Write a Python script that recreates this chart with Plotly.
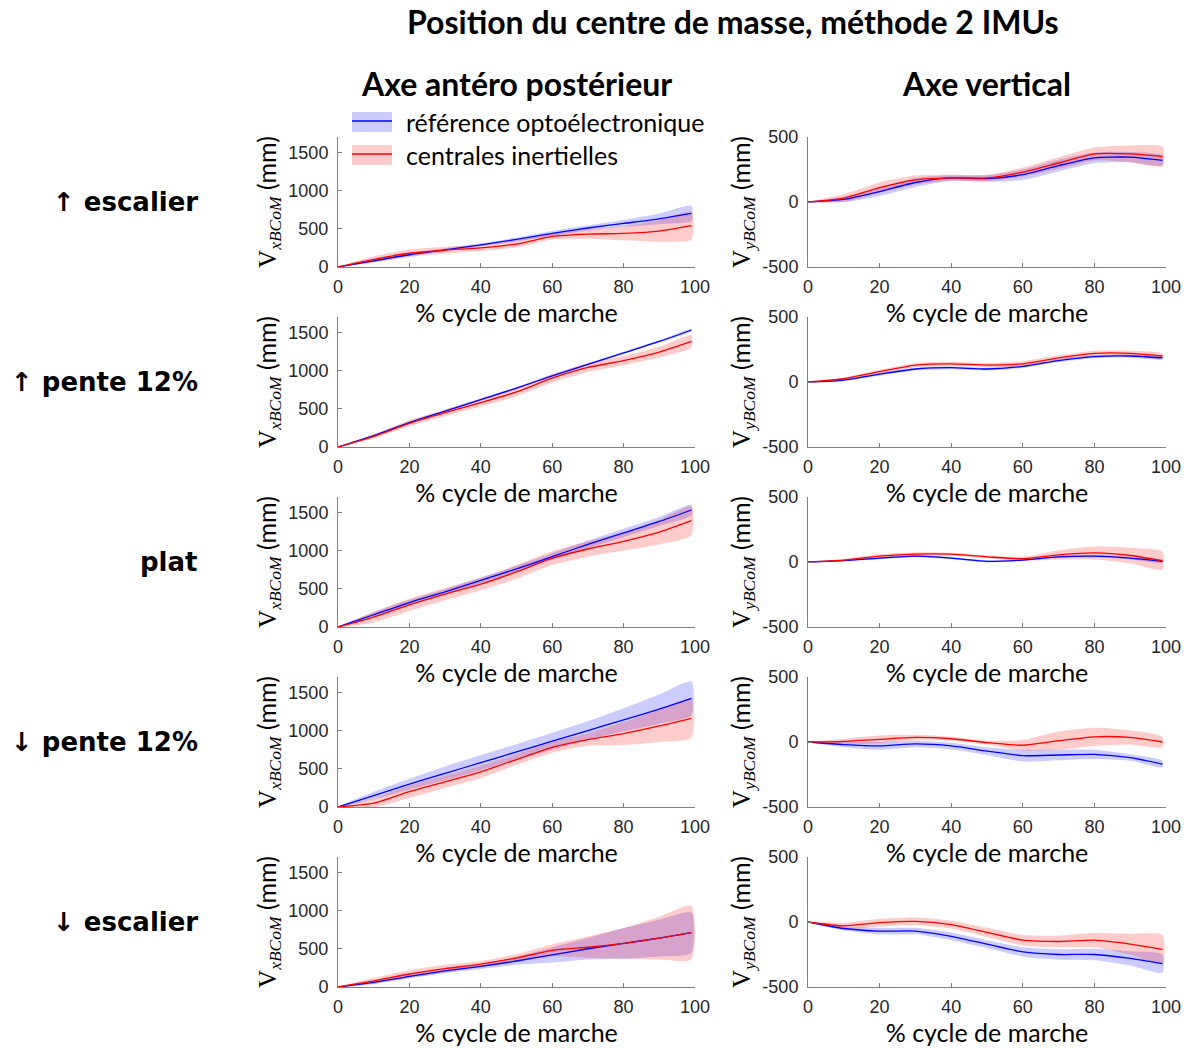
import plotly.graph_objects as go

W, H = 1189, 1048

x_pct = [0, 10, 20, 30, 40, 50, 60, 70, 80, 90, 99]

conditions = ["↑ escalier", "↑ pente 12%", "plat", "↓ pente 12%", "↓ escalier"]

# Antero-posterior axis (mm): mean and half-band width
ap_ref_mean = [
    [0, 80, 160, 225, 290, 360, 440, 510, 570, 630, 700],
    [0, 150, 320, 470, 620, 770, 930, 1080, 1230, 1380, 1530],
    [0, 160, 320, 460, 610, 760, 920, 1080, 1230, 1380, 1530],
    [0, 150, 300, 440, 580, 720, 860, 1000, 1140, 1280, 1420],
    [0, 60, 140, 210, 270, 340, 420, 500, 570, 640, 710],
]
ap_ref_sd = [
    [0, 15, 20, 20, 20, 25, 30, 35, 45, 70, 100],
    [0, 10, 12, 12, 15, 15, 15, 15, 15, 15, 15],
    [0, 30, 35, 35, 40, 40, 45, 50, 55, 60, 70],
    [0, 50, 70, 90, 100, 100, 110, 120, 150, 190, 220],
    [0, 20, 25, 30, 35, 50, 100, 140, 200, 240, 265],
]
ap_imu_mean = [
    [0, 100, 180, 220, 250, 300, 400, 430, 440, 470, 540],
    [0, 140, 310, 450, 580, 720, 900, 1040, 1130, 1240, 1380],
    [0, 130, 290, 430, 560, 720, 900, 1020, 1120, 1240, 1390],
    [0, 50, 200, 330, 460, 620, 780, 880, 960, 1060, 1160],
    [0, 80, 170, 240, 300, 380, 480, 520, 570, 640, 710],
]
ap_imu_sd = [
    [0, 40, 50, 45, 40, 45, 40, 60, 90, 140, 180],
    [0, 25, 40, 45, 50, 55, 55, 60, 60, 70, 80],
    [0, 70, 80, 80, 80, 90, 90, 100, 120, 160, 190],
    [0, 60, 80, 80, 80, 70, 70, 80, 150, 210, 250],
    [0, 40, 50, 50, 40, 50, 80, 140, 200, 280, 350],
]

# Vertical axis (mm)
v_ref_mean = [
    [0, 20, 80, 150, 185, 180, 210, 280, 340, 345, 320],
    [0, 15, 60, 100, 110, 100, 120, 165, 195, 200, 185],
    [0, 10, 30, 45, 30, 5, 15, 40, 45, 30, 5],
    [0, -20, -30, -15, -30, -70, -105, -100, -95, -120, -170],
    [0, -50, -70, -70, -110, -170, -230, -250, -250, -280, -320],
]
v_ref_sd = [
    [0, 20, 35, 35, 20, 25, 40, 45, 40, 40, 40],
    [0, 8, 12, 12, 12, 12, 12, 12, 12, 12, 12],
    [0, 5, 8, 8, 8, 8, 8, 8, 10, 10, 12],
    [0, 20, 30, 25, 25, 30, 45, 40, 35, 25, 25],
    [0, 15, 25, 25, 30, 30, 35, 40, 45, 55, 70],
]
v_imu_mean = [
    [0, 30, 110, 170, 185, 185, 230, 300, 370, 370, 350],
    [0, 25, 80, 130, 140, 130, 140, 185, 220, 220, 200],
    [0, 15, 45, 60, 60, 40, 25, 55, 70, 50, 10],
    [0, 5, 20, 35, 25, -5, -25, 10, 40, 35, 0],
    [0, -30, -5, 5, -20, -80, -140, -150, -140, -170, -210],
]
v_imu_sd = [
    [0, 30, 40, 35, 25, 25, 35, 45, 50, 65, 75],
    [0, 10, 15, 15, 15, 15, 20, 20, 20, 20, 20],
    [0, 10, 15, 15, 12, 12, 15, 35, 50, 60, 70],
    [0, 20, 30, 20, 15, 15, 40, 70, 70, 55, 40],
    [0, 25, 30, 30, 30, 35, 40, 45, 55, 80, 110],
]

x_ticks = [0, 20, 40, 60, 80, 100]
ap_ticks = [0, 500, 1000, 1500]
ap_tick_text = ["0", "500", "1000", "1500"]
v_ticks = [-500, 0, 500]
v_tick_text = ["-500", "0", "500"]

BLUE = "rgb(0,0,255)"
RED = "rgb(255,0,0)"
BLUE_FILL = "rgba(0,0,255,0.2)"
RED_FILL = "rgba(255,0,0,0.2)"


def px_x(p):
    return p / W


def px_y(p):
    return 1 - p / H


fig = go.Figure()

col_dom = [(338, 695), (808, 1166)]
row_top = [137 + 180 * i for i in range(5)]
row_bot = [267 + 180 * i for i in range(5)]

ytitle = ('<span style="font-family:Liberation Serif">V</span>'
          '<sub><i style="font-family:Liberation Serif">{}</i></sub> (mm)')

ax_idx = 0
for r in range(5):
    for c in range(2):
        ax_idx += 1
        xa = "x" if ax_idx == 1 else f"x{ax_idx}"
        ya = "y" if ax_idx == 1 else f"y{ax_idx}"
        if c == 0:
            rm, rs, im, isd = ap_ref_mean[r], ap_ref_sd[r], ap_imu_mean[r], ap_imu_sd[r]
        else:
            rm, rs, im, isd = v_ref_mean[r], v_ref_sd[r], v_imu_mean[r], v_imu_sd[r]
        for mean, sd, fcol in [(rm, rs, BLUE_FILL), (im, isd, RED_FILL)]:
            up = [m + s for m, s in zip(mean, sd)]
            lo = [m - s for m, s in zip(mean, sd)]
            fig.add_trace(go.Scatter(
                x=x_pct + x_pct[::-1], y=up + lo[::-1], fill="toself",
                fillcolor=fcol, line=dict(width=0, shape="spline", smoothing=0.6),
                mode="lines", hoverinfo="skip", showlegend=False,
                xaxis=xa, yaxis=ya))
        for mean, lcol in [(rm, BLUE), (im, RED)]:
            fig.add_trace(go.Scatter(
                x=x_pct, y=mean, mode="lines",
                line=dict(color=lcol, width=1.3, shape="spline", smoothing=0.6),
                showlegend=False, xaxis=xa, yaxis=ya))

        xd = [px_x(col_dom[c][0]), px_x(col_dom[c][1])]
        yd = [px_y(row_bot[r]), px_y(row_top[r])]
        axis_common = dict(showline=True, linecolor="#7f7f7f", linewidth=1,
                           ticks="inside", ticklen=4, tickcolor="#7f7f7f",
                           showgrid=False, zeroline=False, automargin=False,
                           tickfont=dict(family="Liberation Sans", size=18, color="#262626"))
        fig.layout[("xaxis" if ax_idx == 1 else f"xaxis{ax_idx}")] = dict(
            domain=xd, anchor=ya, range=[0, 100], tickvals=x_ticks,
            ticklabelstandoff=3,
            title=dict(text="% cycle de marche",
                       font=dict(family="Lato", size=25, color="#000000"), standoff=2),
            **axis_common)
        fig.layout[("yaxis" if ax_idx == 1 else f"yaxis{ax_idx}")] = dict(
            domain=yd, anchor=xa,
            range=[0, 1700] if c == 0 else [-500, 500],
            tickvals=ap_ticks if c == 0 else v_ticks,
            ticktext=ap_tick_text if c == 0 else v_tick_text,
            ticklabelstandoff=5,
            title=dict(text=ytitle.format("xBCoM" if c == 0 else "yBCoM"),
                       font=dict(family="Lato", size=25, color="#000000"), standoff=4),
            **axis_common)

annotations = []
annotations.append(dict(x=px_x(733), y=px_y(22), text="<b>Position du centre de masse, méthode 2 IMUs</b>",
                        font=dict(family="Lato", size=32, color="black")))
annotations.append(dict(x=px_x(516), y=px_y(83), text="<b>Axe antéro postérieur</b>",
                        font=dict(family="Lato", size=32, color="black")))
annotations.append(dict(x=px_x(987), y=px_y(83), text="<b>Axe vertical</b>",
                        font=dict(family="Lato", size=32, color="black")))
for r, lab in enumerate(conditions):
    yc = (row_top[r] + row_bot[r]) / 2
    annotations.append(dict(x=px_x(200), y=px_y(yc), text=f"<b>{lab}</b>", xanchor="right",
                            font=dict(family="DejaVu Sans", size=26, color="black")))

# legend
annotations.append(dict(x=px_x(404), y=px_y(122), text="référence optoélectronique", xanchor="left",
                        font=dict(family="Lato", size=25, color="black")))
annotations.append(dict(x=px_x(404), y=px_y(155), text="centrales inertielles", xanchor="left",
                        font=dict(family="Lato", size=25, color="black")))
for a in annotations:
    a.update(xref="paper", yref="paper", showarrow=False)
    a.setdefault("xanchor", "center")
    a.setdefault("yanchor", "middle")

shapes = [
    dict(type="rect", x0=px_x(352), x1=px_x(392), y0=px_y(112), y1=px_y(132),
         fillcolor=BLUE_FILL, line=dict(width=0)),
    dict(type="line", x0=px_x(352), x1=px_x(392), y0=px_y(121), y1=px_y(121),
         line=dict(color=BLUE, width=1.3)),
    dict(type="rect", x0=px_x(352), x1=px_x(392), y0=px_y(145), y1=px_y(165),
         fillcolor=RED_FILL, line=dict(width=0)),
    dict(type="line", x0=px_x(352), x1=px_x(392), y0=px_y(154), y1=px_y(154),
         line=dict(color=RED, width=1.3)),
]
for s in shapes:
    s.update(xref="paper", yref="paper")

fig.update_layout(width=W, height=H, margin=dict(l=0, r=0, t=0, b=0, autoexpand=False),
                  paper_bgcolor="white", plot_bgcolor="white",
                  annotations=annotations, shapes=shapes, showlegend=False)

fig.write_html("out.html", config={"displayModeBar": False},
               post_script="document.body.style.margin='0';document.body.style.overflow='hidden';")
